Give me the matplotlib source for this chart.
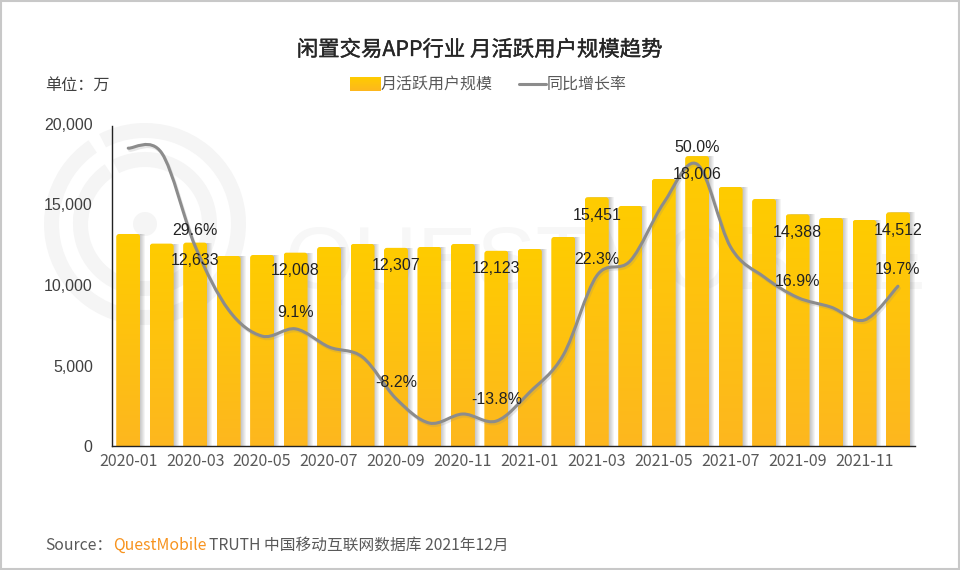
import numpy as np
import matplotlib
matplotlib.use("Agg")
import matplotlib.pyplot as plt
from matplotlib.patches import Circle, PathPatch, Rectangle, Wedge
from matplotlib.path import Path
import matplotlib.patheffects as pe

plt.rcParams['font.family'] = ['Noto Sans CJK SC', 'DejaVu Sans']

months = ['2020-01', '2020-02', '2020-03', '2020-04', '2020-05', '2020-06',
          '2020-07', '2020-08', '2020-09', '2020-10', '2020-11', '2020-12',
          '2021-01', '2021-02', '2021-03', '2021-04', '2021-05', '2021-06',
          '2021-07', '2021-08', '2021-09', '2021-10', '2021-11', '2021-12']
users = [13168, 12570, 12633, 11801, 11863, 12008, 12360, 12547, 12307, 12360, 12547, 12123,
         12236, 12981, 15451, 14907, 16584, 18006, 16087, 15342, 14388, 14161, 14037, 14512]
growth = [54.0, 52.8, 29.6, 13.8, 7.3, 9.1, 4.6, 2.1, -8.2, -14.3, -12.05, -13.8,
          -6.6, 2.6, 22.3, 26.0, 40.4, 50.0, 29.4, 22.0, 16.9, 14.5, 11.3, 19.7]
labelled = [2, 5, 8, 11, 14, 17, 20, 23]

TOP_COL = '#FFCC00'
BOT_COL = '#FDB71F'
LINE_COL = '#8C8C8C'
grad = matplotlib.colors.LinearSegmentedColormap.from_list('bar', [BOT_COL, TOP_COL])
ramp = np.linspace(1, 0, 256).reshape(-1, 1)


def top_round(x0, x1, top, rx, ry):
    verts = [(x0, 0), (x0, top - ry), (x0, top), (x0 + rx, top), (x1 - rx, top),
             (x1, top), (x1, top - ry), (x1, 0), (x0, 0)]
    codes = [Path.MOVETO, Path.LINETO, Path.CURVE3, Path.CURVE3, Path.LINETO,
             Path.CURVE3, Path.CURVE3, Path.LINETO, Path.CLOSEPOLY]
    return Path(verts, codes)


def smooth_path(xs, ys, k=1 / 6):
    # catmull-rom through the points, written as bezier segments
    verts = [(xs[0], ys[0])]
    codes = [Path.MOVETO]
    n = len(xs)
    for i in range(n - 1):
        a, d = max(i - 1, 0), min(i + 2, n - 1)
        verts.append((xs[i] + (xs[i + 1] - xs[a]) * k, ys[i] + (ys[i + 1] - ys[a]) * k))
        verts.append((xs[i + 1] - (xs[d] - xs[i]) * k, ys[i + 1] - (ys[d] - ys[i]) * k))
        verts.append((xs[i + 1], ys[i + 1]))
        codes += [Path.CURVE4] * 3
    return Path(verts, codes)


fig = plt.figure(figsize=(9.6, 5.7), dpi=100, facecolor='white')

# background layer in pixel coordinates: watermark, frame, titles, legend
bg = fig.add_axes([0, 0, 1, 1], zorder=0)
bg.set_xlim(0, 960)
bg.set_ylim(570, 0)
bg.axis('off')

WM = '#F5F5F5'
cx, cy = 145, 224
bg.add_patch(Circle((cx, cy), 12, color=WM, lw=0))
# y axis is flipped here, so the angles run clockwise on screen
bg.add_patch(Wedge((cx, cy), 101, -117 + 360, -124 + 720, width=15, color=WM, lw=0))
bg.add_patch(Wedge((cx, cy), 72, -117 + 360, -167 + 720, width=15, color=WM, lw=0))
bg.add_patch(Wedge((cx, cy), 72, -176 + 360, -124 + 360, width=15, color=WM, lw=0))
bg.text(285, 289, 'QUESTMOBILE', fontsize=64, color='#F7F7F7', family='Liberation Sans',
        ha='left', va='baseline')

bg.add_patch(Rectangle((0.75, 0.75), 958, 568, fill=False, ec='#C8C8C8', lw=1.5))

title = bg.text(479.5, 50, '闲置交易APP行业 月活跃用户规模趋势', fontsize=15.4, color='#262626',
                ha='center', va='center')
title.set_path_effects([pe.withStroke(linewidth=0.25, foreground='#262626')])
bg.text(45, 85, '单位：万', fontsize=11.6, color='#404040', ha='left', va='center')

# legend
im = bg.imshow(ramp, cmap=grad, vmin=0, vmax=1, extent=(350, 381, 91, 77), aspect='auto',
               zorder=2, interpolation='bilinear')
bg.set_xlim(0, 960)
bg.set_ylim(570, 0)
bg.text(381, 84, '月活跃用户规模', fontsize=11.5, color='#595959', ha='left', va='center')
bg.plot([519, 546], [84, 84], color=LINE_COL, lw=2.2, solid_capstyle='round')
bg.text(547, 84, '同比增长率', fontsize=11.5, color='#595959', ha='left', va='center')

# source line
src_col = '#595959'
bg.text(45, 545, 'Source：', fontsize=11.3, color=src_col, ha='left', va='center')
bg.text(113, 545, 'QuestMobile', fontsize=11.4, color='#F7931E', ha='left', va='center')
bg.text(209, 545, 'TRUTH 中国移动互联网数据库 2021年12月', fontsize=11.3, color=src_col, ha='left', va='center')

# chart
ax = fig.add_axes([111.5 / 960, (570 - 446) / 570, (914.7 - 111.5) / 960, 322 / 570], zorder=1)
ax.patch.set_alpha(0)
x = np.arange(len(months))
ax.set_xlim(-0.5, len(months) - 0.5)
ax.set_ylim(0, 20000)
px_x = 1 / 33.47
px_y = 20000 / 322
width = 24 * px_x

# soft shadow to the right of each bar
for off in range(1, 6):
    ax.bar(x + off * px_x, users, width=width, color='black', alpha=0.045, lw=0, zorder=1)

for xi, val in zip(x, users):
    clip = PathPatch(top_round(xi - width / 2, xi + width / 2, val, 3 * px_x, 3 * px_y),
                     transform=ax.transData, fc='none', ec='none')
    im = ax.imshow(ramp, cmap=grad, vmin=0, vmax=1, aspect='auto', zorder=2,
                   interpolation='bilinear', extent=(xi - width / 2, xi + width / 2, 0, val))
    im.set_clip_path(clip)
ax.set_xlim(-0.5, len(months) - 0.5)
ax.set_ylim(0, 20000)

ax.spines['top'].set_visible(False)
ax.spines['right'].set_visible(False)
ax.spines['left'].set_color('#222222')
ax.spines['bottom'].set_color('#222222')
ax.spines['left'].set_linewidth(1.0)
ax.spines['bottom'].set_linewidth(1.0)
ax.spines['left'].set_bounds(0, 19875)
ax.set_xticks(x[::2])
ax.set_xticklabels(months[::2], fontsize=11.5, color='#595959')
ax.set_yticks([0, 5000, 10000, 15000, 20000])
ax.set_yticklabels(['0', '5,000', '10,000', '15,000', '20,000'], fontsize=11.5,
                   color='#404040', family='Liberation Sans')
ax.tick_params(axis='x', length=0, pad=5)
ax.tick_params(axis='y', length=0, pad=13.5)

ax2 = ax.twinx()
ax2.set_ylim(-20, 60)
ax2.axis('off')
line = PathPatch(smooth_path(x.astype(float), np.array(growth)), fc='none', ec=LINE_COL, lw=2.2,
                 capstyle='round', zorder=3)
line.set_path_effects([pe.SimpleLineShadow(offset=(1, -1.5), shadow_color='#888888', alpha=0.2),
                       pe.Normal()])
ax2.add_patch(line)

for i in labelled:
    ax2.annotate(f'{users[i]:,}', xy=(x[i], users[i] / 20000 * 80 - 20), xytext=(0, -12.9),
                 textcoords='offset points', ha='center', va='center', fontsize=11.5,
                 color='#222222', family='Liberation Sans', zorder=5)
    lift = 15.8 if i == 11 else 11.7
    ax2.annotate(f'{growth[i]:.1f}%', xy=(x[i], growth[i]), xytext=(0, lift),
                 textcoords='offset points', ha='center', va='center', fontsize=11.5,
                 color='#222222', family='Liberation Sans', zorder=5)

fig.savefig('out.png', dpi=100)
